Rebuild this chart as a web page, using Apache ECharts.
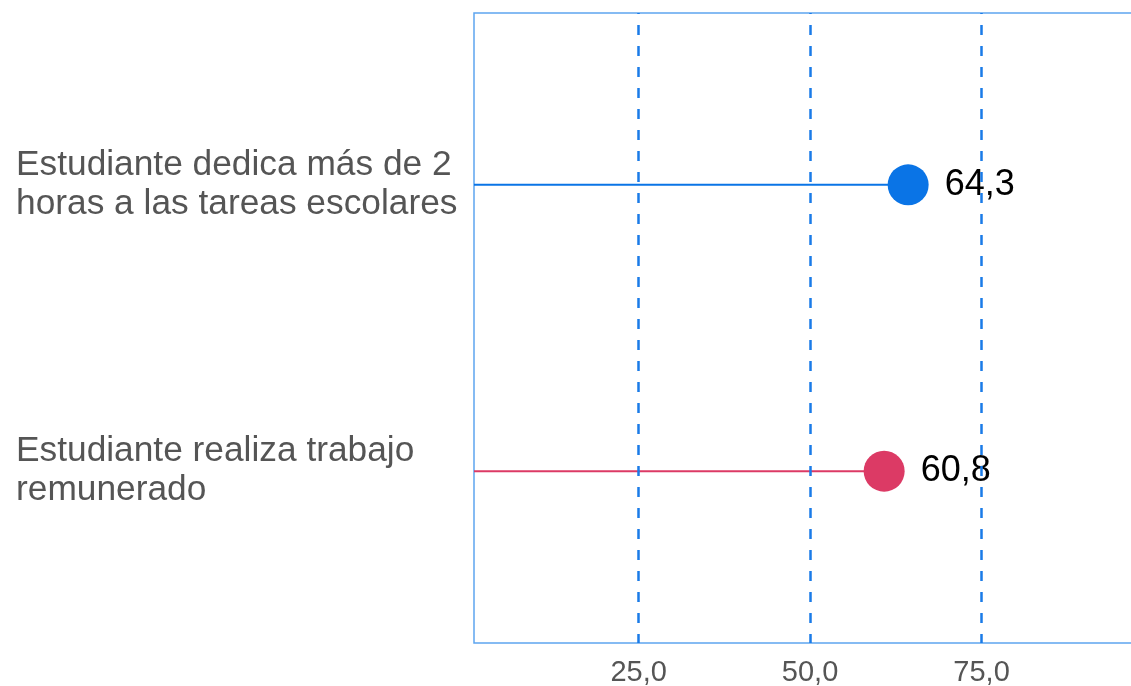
<!DOCTYPE html>
<html>
<head>
<meta charset="utf-8">
<script src="https://cdn.jsdelivr.net/npm/echarts@6/dist/echarts.min.js"></script>
<style>
html,body{margin:0;padding:0;background:#fff;}
#chart{width:1131px;height:686px;}
</style>
</head>
<body>
<div id="chart"></div>
<script>
const categories = [
  "Estudiante dedica más de 2\nhoras a las tareas escolares",
  "Estudiante realiza trabajo\nremunerado"
];
const values = [64.3, 60.8];
const palette = ["#0a74e6", "#dc3a65"];
const tickValues = [25, 50, 75];
const xMin = 1, xMax = 100;

const fmt = v => v.toFixed(1).replace('.', ',');
const FONT = "'Liberation Sans', Arial, sans-serif";

const chart = echarts.init(document.getElementById('chart'));
const pts = values.map((v, i) => [v, i]);

chart.setOption({
  animation: false,
  grid: {
    left: 474, top: 13, width: 679, height: 630,
    outerBoundsMode: 'none', containLabel: false,
    show: true, borderColor: '#5ea5ef', borderWidth: 1.5, backgroundColor: 'transparent'
  },
  xAxis: {
    type: 'value', min: xMin, max: xMax,
    axisLine: { show: false }, axisTick: { show: false }, splitLine: { show: false },
    axisLabel: {
      customValues: tickValues, formatter: v => fmt(v),
      color: '#555', fontSize: 29, fontFamily: FONT, margin: 15
    }
  },
  yAxis: {
    type: 'value', min: -0.6, max: 1.6, inverse: true,
    axisLine: { show: false }, axisTick: { show: false }, splitLine: { show: false },
    axisLabel: {
      customValues: categories.map((c, i) => i),
      formatter: v => categories[Math.round(v)] || '',
      color: '#555', fontSize: 35.3, lineHeight: 39, fontFamily: FONT,
      align: 'left', margin: 458
    }
  },
  series: [
    {
      type: 'custom',
      data: pts,
      silent: true,
      renderItem: (params, api) => {
        const s = api.coord([xMin, api.value(1)]);
        const e = api.coord([api.value(0), api.value(1)]);
        return {
          type: 'line',
          shape: { x1: s[0], y1: s[1], x2: e[0], y2: e[1] },
          style: { stroke: palette[params.dataIndex % palette.length], lineWidth: 2 }
        };
      },
      z: 3
    },
    {
      type: 'scatter',
      data: pts.map((p, i) => ({ value: p, itemStyle: { color: palette[i % palette.length], opacity: 1 } })),
      symbolSize: 41,
      z: 4,
      label: {
        show: true, position: 'right', distance: 16,
        formatter: p => fmt(p.value[0]),
        color: '#000', fontSize: 36, fontFamily: FONT, opacity: 1
      },
      markLine: {
        silent: true, symbol: 'none', label: { show: false },
        lineStyle: { color: '#1a7be8', type: [10, 11], width: 2.5, dashOffset: -12 },
        data: tickValues.map(v => ({ xAxis: v }))
      }
    }
  ]
});
</script>
</body>
</html>
